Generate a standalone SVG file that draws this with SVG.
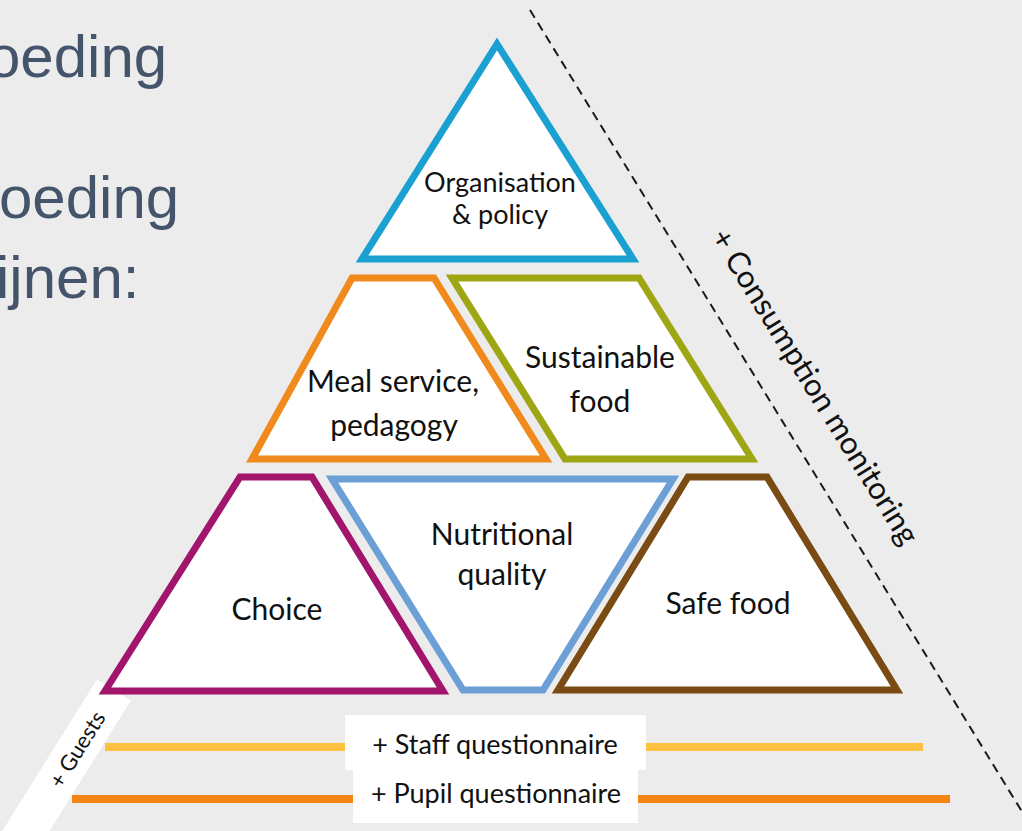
<svg xmlns="http://www.w3.org/2000/svg" width="1022" height="831" viewBox="0 0 1022 831">
  <style>
    .bg { fill: #ececec; }
    .side { font-family: "Liberation Sans", Arial, sans-serif; font-size: 60px; fill: #44546a; }
    .shape { fill: #ffffff; stroke-width: 7; stroke-linejoin: miter; stroke-miterlimit: 10; }
    .lbl { font-family: Lato, "Liberation Sans", sans-serif; font-size: 30px; fill: #111111; text-anchor: middle; }
    .dash { fill: none; stroke: #1a1a1a; stroke-width: 2; stroke-dasharray: 9 6; }
    .band { fill: none; stroke-width: 8; }
    .box { fill: #ffffff; }
  </style>
  <rect class="bg" x="0" y="0" width="1022" height="831"/>

  <g id="side-text">
    <text class="side" x="-13" y="77">oeding</text>
    <text class="side" x="-1" y="218">oeding</text>
    <text class="side" x="-4" y="298">ijnen:</text>
  </g>

  <g id="guests">
    <g transform="translate(114,690) rotate(-58)">
      <rect x="-200" y="-20" width="200" height="40" fill="#ffffff"/>
      <text class="lbl" x="-70" y="8" style="font-size:22px">+ Guests</text>
    </g>
  </g>

  <g id="connectors">
    <line class="dash" x1="530" y1="10" x2="1032" y2="828"/>
    <line class="band" x1="105" y1="747" x2="923" y2="747" stroke="#fdc040"/>
    <line class="band" x1="72" y1="799" x2="950" y2="799" stroke="#f28514"/>
  </g>

  <g id="consumption">
    <text class="lbl" transform="translate(806,392) rotate(58.2)" x="0" y="0" style="font-size:31px">+ Consumption monitoring</text>
  </g>

  <g id="organisation">
    <polygon class="shape" stroke="#1ba1d1" points="497,44 633,259 362,259"/>
    <text class="lbl" x="500" y="192" style="font-size:27px">Organisation</text>
    <text class="lbl" x="500" y="224" style="font-size:27px">&amp; policy</text>
  </g>

  <g id="meal-service">
    <polygon class="shape" stroke="#f08a1c" points="352,278 434,278 546,459 252,459"/>
    <text class="lbl" x="393" y="392">Meal service,</text>
    <text class="lbl" x="394" y="436">pedagogy</text>
  </g>

  <g id="sustainable">
    <polygon class="shape" stroke="#9ea614" points="452,278 639,278 752,459 565,459"/>
    <text class="lbl" x="600" y="368">Sustainable</text>
    <text class="lbl" x="600" y="412">food</text>
  </g>

  <g id="choice">
    <polygon class="shape" stroke="#a2156c" points="240,477 312,477 443,691 105,691"/>
    <text class="lbl" x="277" y="620">Choice</text>
  </g>

  <g id="nutritional">
    <polygon class="shape" stroke="#6b9fd6" points="332,479 673,479 543,690 463,690"/>
    <text class="lbl" x="502" y="545">Nutritional</text>
    <text class="lbl" x="502" y="585">quality</text>
  </g>

  <g id="safe-food">
    <polygon class="shape" stroke="#7a4b12" points="688,477 767,477 897,690 558,690"/>
    <text class="lbl" x="728" y="614">Safe food</text>
  </g>

  <g id="staff">
    <rect class="box" x="345" y="715" width="301" height="55"/>
    <text class="lbl" x="495" y="754" style="font-size:27px">+ Staff questionnaire</text>
  </g>

  <g id="pupil">
    <rect class="box" x="353" y="770" width="285" height="53"/>
    <text class="lbl" x="496" y="803" style="font-size:27px">+ Pupil questionnaire</text>
  </g>
</svg>
